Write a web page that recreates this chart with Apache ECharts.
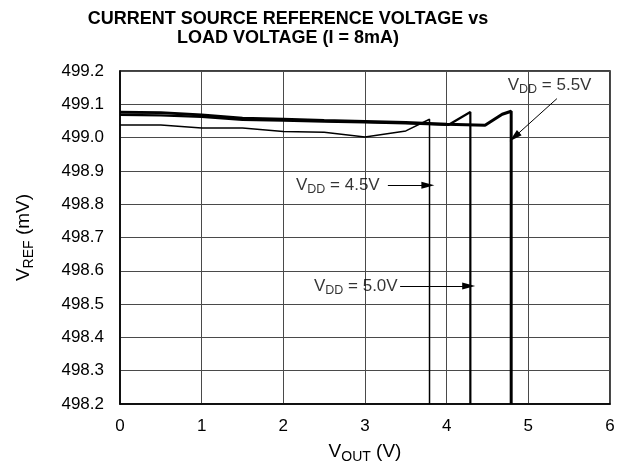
<!DOCTYPE html>
<html>
<head>
<meta charset="utf-8">
<script src="https://cdn.jsdelivr.net/npm/echarts@6/dist/echarts.min.js"></script>
<style>
  html, body { margin: 0; padding: 0; background: #fff; }
  #chart { width: 624px; height: 471px; }
</style>
</head>
<body>
<div id="chart"></div>
<script>
// Reference voltage (mV) against output voltage (V) for three supply levels
const vdd45X = [0, 0.5, 1, 1.5, 2, 2.5, 3, 3.5, 3.79, 3.79];
const vdd45Y = [499.038, 499.038, 499.029, 499.029, 499.018, 499.016, 499.002, 499.020, 499.055, 498.2];

const vdd50X = [0, 0.5, 1, 1.5, 2, 2.5, 3, 3.5, 4.02, 4.29, 4.29];
const vdd50Y = [499.068, 499.067, 499.062, 499.053, 499.051, 499.048, 499.046, 499.043, 499.038, 499.077, 498.2];

const vdd55X = [0, 0.5, 1, 1.5, 2, 2.5, 3, 3.5, 4.0, 4.47, 4.68, 4.79, 4.79];
const vdd55Y = [499.076, 499.075, 499.068, 499.058, 499.055, 499.051, 499.048, 499.045, 499.040, 499.037, 499.070, 499.079, 498.2];

// Callouts: label anchor (text ends at the anchor for the two left-hand
// callouts, text is centred on it for the top one), and arrow start/end
const calloutText = ['4.5V', '5.0V', '5.5V'];
const calloutLabelAt = [[3.18, 498.857], [3.40, 498.554], [5.26, 499.157]];
const calloutLabelPos = ['left', 'left', 'inside'];
const calloutArrowFrom = [[3.28, 498.857], [3.43, 498.554], [5.35, 499.117]];
const calloutArrowTo = [[3.77, 498.857], [4.27, 498.554], [4.83, 499.002]];

const zip = (xs, ys) => xs.map((x, i) => [x, ys[i]]);

const font = '"Liberation Sans", Arial, sans-serif';
const calloutRich = {
  m: { fontSize: 17, fontFamily: font, color: '#000' },
  s: { fontSize: 12.5, fontFamily: font, color: '#000', padding: [9, 0, 0, 0] }
};
const nameRich = {
  m: { fontSize: 19, fontFamily: font, color: '#000' },
  s: { fontSize: 14, fontFamily: font, color: '#000', padding: [10, 0, 0, 0] }
};

const chart = echarts.init(document.getElementById('chart'));

chart.setOption({
  animation: false,
  backgroundColor: '#fff',
  title: {
    text: 'CURRENT SOURCE REFERENCE VOLTAGE vs\nLOAD VOLTAGE (I = 8mA)',
    left: 283,
    top: 5,
    textAlign: 'center',
    textStyle: { fontFamily: font, fontSize: 18, fontWeight: 'bold', color: '#000', lineHeight: 19 }
  },
  grid: {
    left: 120, right: 14, top: 71, bottom: 67,
    show: true, borderColor: '#000', borderWidth: 1.5, backgroundColor: 'transparent'
  },
  xAxis: {
    type: 'value', min: 0, max: 6, interval: 1,
    name: '{m|V}{s|OUT}{m| (V)}',
    nameLocation: 'middle', nameGap: 36,
    nameTextStyle: { rich: nameRich },
    axisLine: { show: true, lineStyle: { color: '#000', width: 1.5 } },
    axisTick: { show: false },
    axisLabel: { margin: 14, fontSize: 17, fontFamily: font, color: '#000' },
    splitLine: { show: true, lineStyle: { color: '#4a4a4a', width: 1 } }
  },
  yAxis: {
    type: 'value', min: 498.2, max: 499.2, interval: 0.1,
    name: '{m|V}{s|REF}{m| (mV)}',
    nameLocation: 'middle', nameGap: 84, nameRotate: 90,
    nameTextStyle: { rich: nameRich },
    axisLine: { show: true, lineStyle: { color: '#000', width: 1.5 } },
    axisTick: { show: false },
    axisLabel: { margin: 16, fontSize: 17, fontFamily: font, color: '#000',
      formatter: v => v.toFixed(1) },
    splitLine: { show: true, lineStyle: { color: '#4a4a4a', width: 1 } }
  },
  series: [
    {
      name: 'VDD = 4.5V', type: 'line', data: zip(vdd45X, vdd45Y),
      symbol: 'none', lineStyle: { color: '#000', width: 1.5 }
    },
    {
      name: 'VDD = 5.0V', type: 'line', data: zip(vdd50X, vdd50Y),
      symbol: 'none', lineStyle: { color: '#000', width: 2.2 }
    },
    {
      name: 'VDD = 5.5V', type: 'line', data: zip(vdd55X, vdd55Y),
      symbol: 'none', lineStyle: { color: '#000', width: 3 }
    },
    {
      name: 'callouts', type: 'scatter', symbolSize: 0, silent: true,
      data: calloutLabelAt.map((p, i) => ({
        value: p, name: calloutText[i],
        label: { position: calloutLabelPos[i], distance: 0 }
      })),
      label: {
        show: true,
        formatter: p => '{m|V}{s|DD}{m| = ' + p.name + '}',
        rich: calloutRich
      },
      markLine: {
        silent: true, symbol: ['none', 'triangle'], symbolSize: [7, 13],
        label: { show: false },
        lineStyle: { color: '#000', width: 1, type: 'solid' },
        data: calloutArrowFrom.map((p, i) => [{ coord: p }, { coord: calloutArrowTo[i] }])
      }
    }
  ]
});
</script>
</body>
</html>
